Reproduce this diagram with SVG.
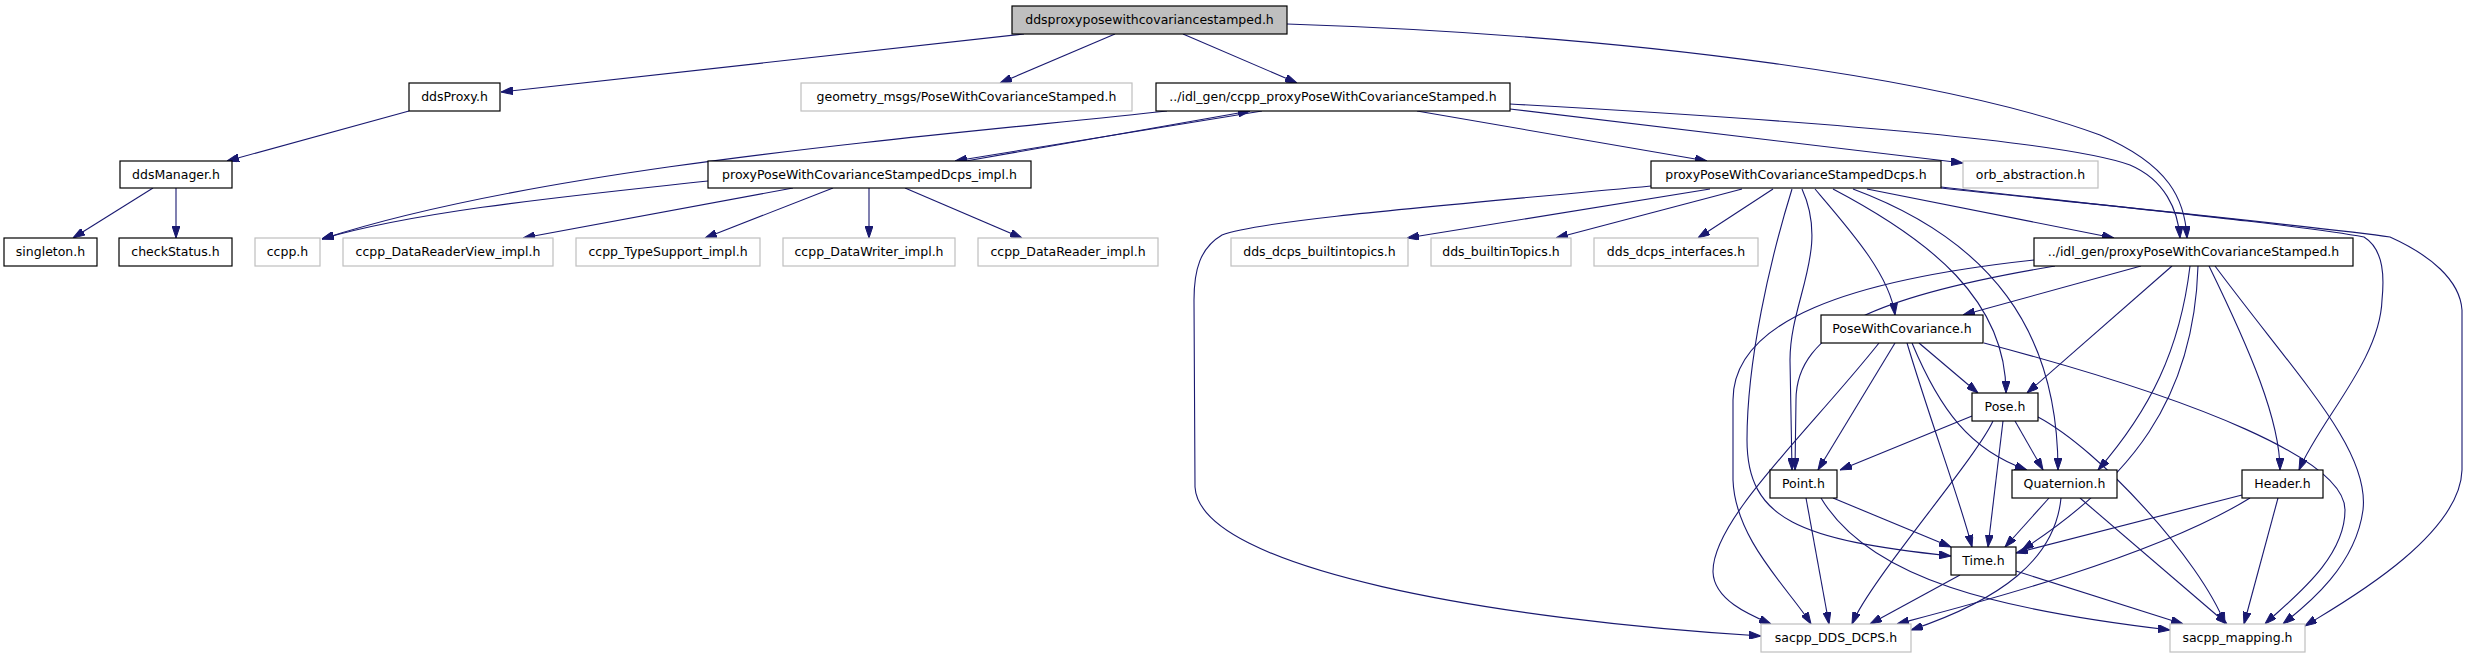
<svg xmlns="http://www.w3.org/2000/svg" width="2467" height="659" viewBox="0 0 2467 659">
<style>
.n rect{fill:#fff;stroke:#000;stroke-width:1.2}
.g rect{fill:#fff;stroke:#bfbfbf;stroke-width:1.2}
.r rect{fill:#bfbfbf;stroke:#000;stroke-width:1.2}
text{font-family:"DejaVu Sans",sans-serif;font-size:12.5px;text-anchor:middle;fill:#000}
#edges path{fill:none;stroke:#191970;stroke-width:1.1}
</style>
<defs>
<marker id="a" markerWidth="12" markerHeight="8" refX="12" refY="4" orient="auto" markerUnits="userSpaceOnUse"><path d="M0,0 L12,4 L0,8 z" fill="#191970" stroke="#191970" stroke-width="1"/></marker>
</defs>
<rect width="2467" height="659" fill="#fff"/>
<g id="edges" marker-end="url(#a)">
<path d="M1024,34 L501,92"/>
<path d="M1115,34 L1000,83"/>
<path d="M1183,34 L1297,83"/>
<path d="M1287,24 C1650,36 1950,80 2100,135 C2170,165 2185,200 2187,238"/>
<path d="M1262,111 L955,161"/>
<path d="M966,161 L1250,111"/>
<path d="M1167,111 C950,135 550,165 322,239"/>
<path d="M708,181 C580,195 420,210 322,239"/>
<path d="M1417,111 L1707,161"/>
<path d="M1510,109 L1963,163"/>
<path d="M1510,104 C1800,120 2060,140 2130,165 C2165,180 2178,210 2180,238"/>
<path d="M793,188 L523,238"/>
<path d="M833,188 L705,238"/>
<path d="M869,188 L869,238"/>
<path d="M905,188 L1022,238"/>
<path d="M409,111 L227,161"/>
<path d="M153,188 L73,238"/>
<path d="M176,188 L176,238"/>
<path d="M1651,186 C1450,205 1260,220 1222,235 C1200,248 1194,270 1194,300 L1195,487 C1200,570 1500,620 1761,636"/>
<path d="M1710,189 L1407,238"/>
<path d="M1742,189 L1556,238"/>
<path d="M1773,189 L1698,238"/>
<path d="M1792,189 C1770,260 1747,360 1747,440 C1747,520 1800,540 1951,556"/>
<path d="M1802,189 C1830,250 1790,300 1790,360 L1792,470"/>
<path d="M1815,189 C1850,230 1890,275 1895,315"/>
<path d="M1833,189 C1930,240 2006,300 2006,393"/>
<path d="M1853,189 C1990,240 2058,330 2058,470"/>
<path d="M1867,189 L2114,238"/>
<path d="M1941,187 C2100,205 2300,225 2364,237 C2385,250 2384,280 2382,300 C2380,360 2320,420 2299,470"/>
<path d="M1941,188 C2100,205 2330,228 2390,237 C2430,255 2460,280 2462,310 L2462,470 C2460,540 2330,610 2305,626"/>
<path d="M2141,266 L1963,315"/>
<path d="M2172,266 L2027,393"/>
<path d="M2055,266 C1880,295 1796,330 1796,400 L1795,470"/>
<path d="M2034,260 C1850,280 1733,320 1733,400 L1733,480 C1735,540 1790,590 1811,624"/>
<path d="M2190,266 C2180,350 2150,410 2098,470"/>
<path d="M2198,266 C2194,400 2130,480 2022,550"/>
<path d="M2209,266 C2250,350 2280,420 2280,470"/>
<path d="M2215,266 C2300,380 2370,450 2363,510 C2355,570 2300,610 2283,624"/>
<path d="M1879,343 C1810,430 1712,520 1713,572 C1714,600 1750,615 1771,624"/>
<path d="M1895,343 L1818,470"/>
<path d="M1907,343 C1930,420 1960,500 1972,547"/>
<path d="M1919,343 L1978,393"/>
<path d="M1912,343 C1940,410 1970,450 2027,470"/>
<path d="M1984,343 C2200,400 2345,460 2345,510 C2345,560 2290,600 2265,624"/>
<path d="M1972,416 L1840,470"/>
<path d="M1993,421 C1975,460 1870,580 1852,624"/>
<path d="M2003,421 L1988,547"/>
<path d="M2015,421 L2043,470"/>
<path d="M2038,417 C2100,450 2200,560 2225,624"/>
<path d="M1806,498 L1829,624"/>
<path d="M1821,498 C1870,580 2000,610 2170,630"/>
<path d="M1833,498 L1951,547"/>
<path d="M2049,498 L2005,547"/>
<path d="M2061,498 C2055,560 2000,600 1911,630"/>
<path d="M2080,498 L2227,624"/>
<path d="M1960,575 L1870,624"/>
<path d="M2016,571 L2183,624"/>
<path d="M2242,495 L2016,553"/>
<path d="M2250,498 C2150,560 1950,610 1897,624"/>
<path d="M2278,498 L2244,624"/>
</g>
<g id="n0" class="r"><rect x="1012" y="6" width="275" height="28"/><text x="1149.5" y="24">ddsproxyposewithcovariancestamped.h</text></g>
<g id="n1" class="n"><rect x="409" y="83" width="91" height="28"/><text x="454.5" y="101">ddsProxy.h</text></g>
<g id="n2" class="g"><rect x="801" y="83" width="331" height="28"/><text x="966.5" y="101">geometry_msgs/PoseWithCovarianceStamped.h</text></g>
<g id="n3" class="n"><rect x="1156" y="83" width="354" height="28"/><text x="1333" y="101">../idl_gen/ccpp_proxyPoseWithCovarianceStamped.h</text></g>
<g id="n4" class="n"><rect x="120" y="161" width="112" height="27"/><text x="176" y="179">ddsManager.h</text></g>
<g id="n5" class="n"><rect x="708" y="161" width="323" height="27"/><text x="869.5" y="179">proxyPoseWithCovarianceStampedDcps_impl.h</text></g>
<g id="n6" class="n"><rect x="1651" y="161" width="290" height="27"/><text x="1796" y="179">proxyPoseWithCovarianceStampedDcps.h</text></g>
<g id="n7" class="g"><rect x="1963" y="161" width="135" height="27"/><text x="2030.5" y="179">orb_abstraction.h</text></g>
<g id="n8" class="n"><rect x="4" y="238" width="93" height="28"/><text x="50.5" y="256">singleton.h</text></g>
<g id="n9" class="n"><rect x="119" y="238" width="113" height="28"/><text x="175.5" y="256">checkStatus.h</text></g>
<g id="n10" class="g"><rect x="255" y="238" width="65" height="28"/><text x="287.5" y="256">ccpp.h</text></g>
<g id="n11" class="g"><rect x="343" y="238" width="210" height="28"/><text x="448" y="256">ccpp_DataReaderView_impl.h</text></g>
<g id="n12" class="g"><rect x="576" y="238" width="184" height="28"/><text x="668" y="256">ccpp_TypeSupport_impl.h</text></g>
<g id="n13" class="g"><rect x="783" y="238" width="172" height="28"/><text x="869" y="256">ccpp_DataWriter_impl.h</text></g>
<g id="n14" class="g"><rect x="978" y="238" width="180" height="28"/><text x="1068" y="256">ccpp_DataReader_impl.h</text></g>
<g id="n15" class="g"><rect x="1231" y="238" width="177" height="28"/><text x="1319.5" y="256">dds_dcps_builtintopics.h</text></g>
<g id="n16" class="g"><rect x="1431" y="238" width="140" height="28"/><text x="1501" y="256">dds_builtinTopics.h</text></g>
<g id="n17" class="g"><rect x="1594" y="238" width="164" height="28"/><text x="1676" y="256">dds_dcps_interfaces.h</text></g>
<g id="n18" class="n"><rect x="2034" y="238" width="319" height="28"/><text x="2193.5" y="256">../idl_gen/proxyPoseWithCovarianceStamped.h</text></g>
<g id="n19" class="n"><rect x="1821" y="315" width="162" height="28"/><text x="1902" y="333">PoseWithCovariance.h</text></g>
<g id="n20" class="n"><rect x="1972" y="393" width="66" height="28"/><text x="2005" y="411">Pose.h</text></g>
<g id="n21" class="n"><rect x="1770" y="470" width="67" height="28"/><text x="1803.5" y="488">Point.h</text></g>
<g id="n22" class="n"><rect x="2012" y="470" width="105" height="28"/><text x="2064.5" y="488">Quaternion.h</text></g>
<g id="n23" class="n"><rect x="2242" y="470" width="81" height="28"/><text x="2282.5" y="488">Header.h</text></g>
<g id="n24" class="n"><rect x="1951" y="547" width="65" height="28"/><text x="1983.5" y="565">Time.h</text></g>
<g id="n25" class="g"><rect x="1761" y="624" width="150" height="28"/><text x="1836" y="642">sacpp_DDS_DCPS.h</text></g>
<g id="n26" class="g"><rect x="2170" y="624" width="135" height="28"/><text x="2237.5" y="642">sacpp_mapping.h</text></g>
</svg>
